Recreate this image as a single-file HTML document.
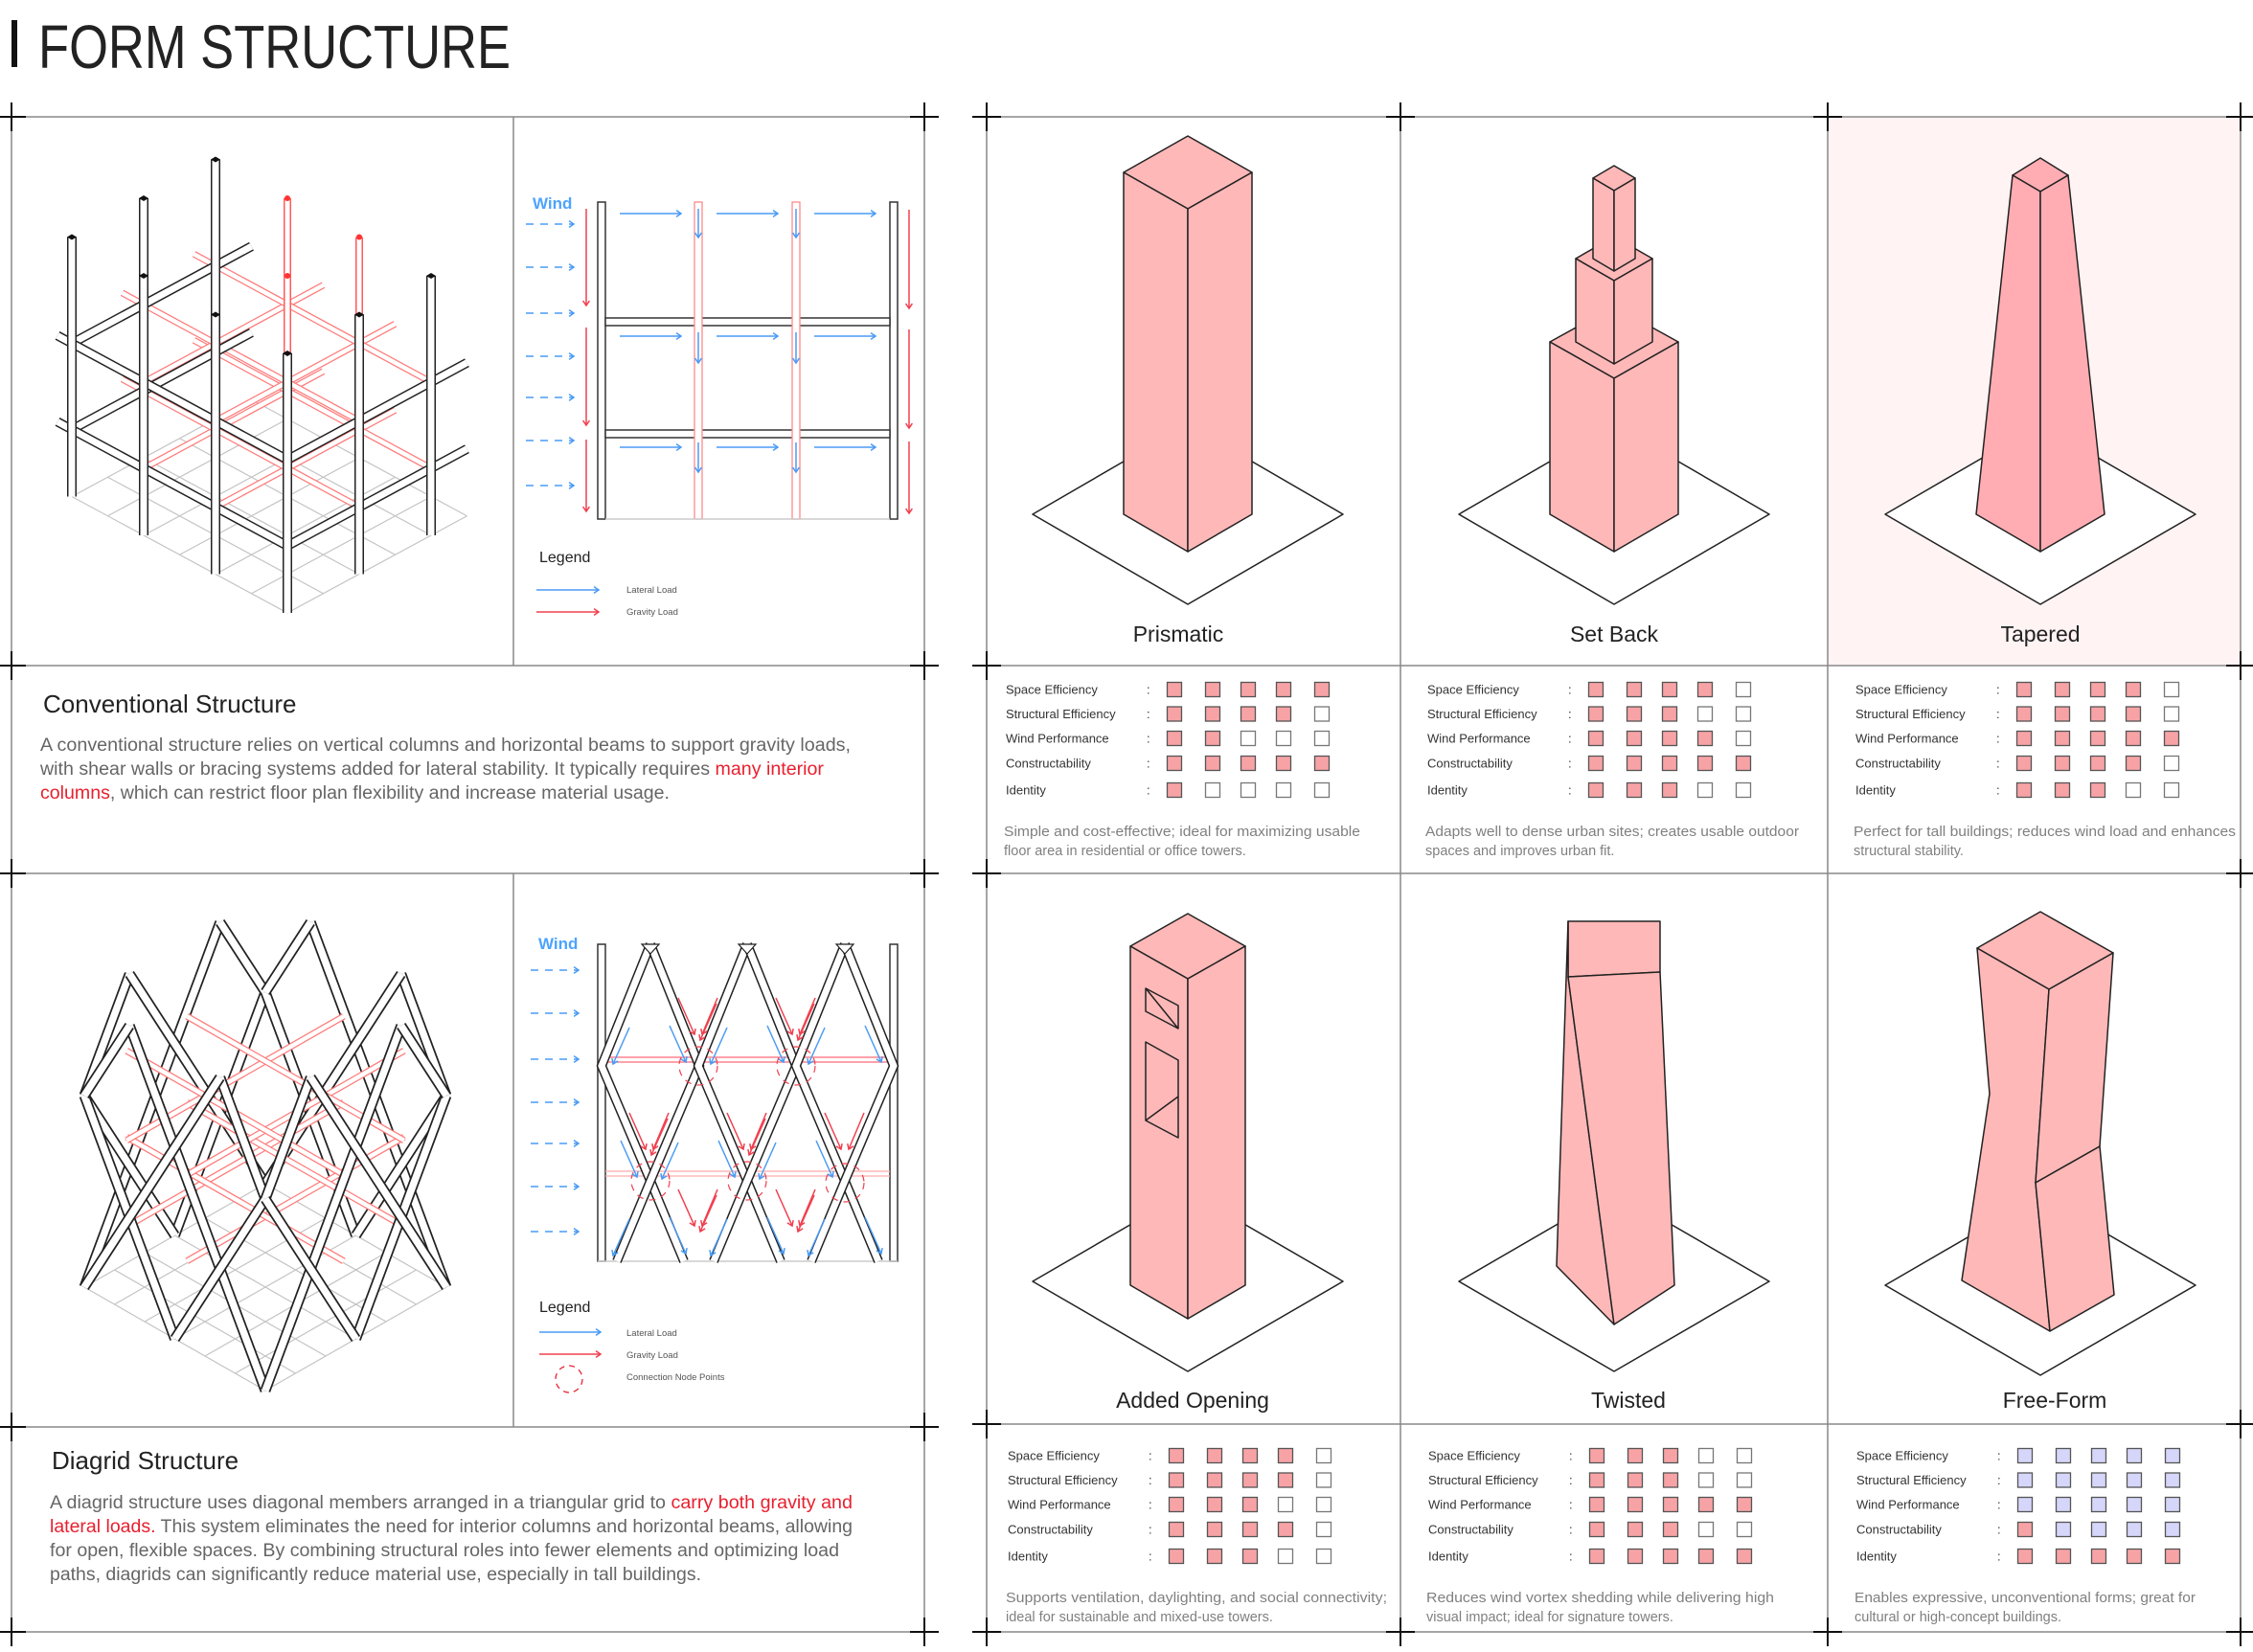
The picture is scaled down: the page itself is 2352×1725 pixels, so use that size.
<!DOCTYPE html>
<html><head><meta charset="utf-8"><style>
html,body{margin:0;padding:0;background:#fff}
svg{display:block}
text{font-family:"Liberation Sans",sans-serif}
</style></head><body>
<svg id="s" xmlns="http://www.w3.org/2000/svg" width="2352" height="1725" viewBox="0 0 2352 1725">
<rect width="2352" height="1725" fill="#fff"/>
<rect x="1908" y="122" width="431" height="573" fill="#fff3f3"/>
<rect x="12" y="21" width="6" height="49" fill="#111"/>
<text x="40" y="71" font-size="64" fill="#222" textLength="493" lengthAdjust="spacingAndGlyphs">FORM STRUCTURE</text>

<g id="frames" stroke="#888" stroke-width="1.5" fill="none">
<path d="M12 122H965M12 695H965M12 912H965M12 1490H965M12 1704H965M12 122V1704M965 122V1704M536 122V695M536 912V1490"/>
<path d="M1030 122H2339M1030 695H2339M1030 912H2339M1030 1487H2339M1030 1704H2339M1030 122V1704M2339 122V1704M1462 122V1704M1908 122V1704"/>
</g>
<g id="cross" stroke="#111" stroke-width="2"></g>

<text x="45" y="744" font-size="26" fill="#222">Conventional Structure</text>
<g font-size="19" fill="#666">
<text x="42" y="784" textLength="846" lengthAdjust="spacingAndGlyphs">A conventional structure relies on vertical columns and horizontal beams to support gravity loads,</text>
<text x="42" y="809" textLength="818" lengthAdjust="spacingAndGlyphs">with shear walls or bracing systems added for lateral stability. It typically requires <tspan fill="#e8202f">many interior</tspan></text>
<text x="42" y="834" textLength="657" lengthAdjust="spacingAndGlyphs"><tspan fill="#e8202f">columns</tspan>, which can restrict floor plan flexibility and increase material usage.</text>
</g>
<text x="54" y="1534" font-size="26" fill="#222">Diagrid Structure</text>
<g font-size="19" fill="#666">
<text x="52" y="1575" textLength="838" lengthAdjust="spacingAndGlyphs">A diagrid structure uses diagonal members arranged in a triangular grid to <tspan fill="#e8202f">carry both gravity and</tspan></text>
<text x="52" y="1600" textLength="838" lengthAdjust="spacingAndGlyphs"><tspan fill="#e8202f">lateral loads.</tspan> This system eliminates the need for interior columns and horizontal beams, allowing</text>
<text x="52" y="1625" textLength="824" lengthAdjust="spacingAndGlyphs">for open, flexible spaces. By combining structural roles into fewer elements and optimizing load</text>
<text x="52" y="1650" textLength="680" lengthAdjust="spacingAndGlyphs">paths, diagrids can significantly reduce material use, especially in tall buildings.</text>
</g>

<g id="elev1">
<g fill="#fff" stroke="#333" stroke-width="1.5">
<rect x="624" y="211" width="8" height="331"/><rect x="929" y="211" width="8" height="331"/>
<rect x="632" y="332" width="297" height="8"/><rect x="632" y="449" width="297" height="8"/>
</g>
<g fill="#fff" stroke="#ff8a8a" stroke-width="1.3">
<rect x="725" y="211" width="8" height="331"/><rect x="827" y="211" width="8" height="331"/>
</g>
<line x1="632" y1="542" x2="929" y2="542" stroke="#ccc" stroke-width="1.5"/>
<text x="556" y="218" font-size="17" font-weight="bold" fill="#4da3ff">Wind</text>
</g>
<text x="563" y="587" font-size="16" fill="#222">Legend</text>
<text x="654" y="619" font-size="9.5" fill="#555">Lateral Load</text>
<text x="654" y="642" font-size="9.5" fill="#555">Gravity Load</text>

<g id="elev2">
<g fill="#fff" stroke="#333" stroke-width="1.5">
<rect x="624" y="986" width="8" height="331"/><rect x="929" y="986" width="8" height="331"/>
</g>
<line x1="624" y1="1317" x2="937" y2="1317" stroke="#ccc" stroke-width="1.5"/>
<text x="562" y="991" font-size="17" font-weight="bold" fill="#4da3ff">Wind</text>
</g>
<text x="563" y="1370" font-size="16" fill="#222">Legend</text>
<text x="654" y="1395" font-size="9.5" fill="#555">Lateral Load</text>
<text x="654" y="1418" font-size="9.5" fill="#555">Gravity Load</text>
<text x="654" y="1441" font-size="9.5" fill="#555">Connection Node Points</text>
<circle cx="594" cy="1440" r="14" fill="none" stroke="#e8202f" stroke-width="1.3" stroke-dasharray="6 5"/>

<g id="iso"></g>

<g stroke="#222" stroke-width="1.5" stroke-linejoin="round">
<g fill="#fff">
<polygon points="1078,537 1240,443 1402,537 1240,631"/>
<polygon points="1523,537 1685,443 1847,537 1685,631"/>
<polygon points="1968,537 2130,443 2292,537 2130,631"/>
<polygon points="1078,1338 1240,1244 1402,1338 1240,1432"/>
<polygon points="1523,1338 1685,1244 1847,1338 1685,1432"/>
<polygon points="1968,1342 2130,1248 2292,1342 2130,1436"/>
</g>
<g fill="#ffb8b8">
<polygon points="1240,142 1173,180 1240,218 1307,180"/>
<polygon points="1173,180 1240,218 1240,576 1173,537"/>
<polygon points="1240,218 1307,180 1307,537 1240,576"/>
<polygon points="1685,320 1618,357 1685,395 1752,357"/>
<polygon points="1618,357 1685,395 1685,576 1618,537"/>
<polygon points="1685,395 1752,357 1752,537 1685,576"/>
<polygon points="1685,247 1645,270 1685,293 1725,270"/>
<polygon points="1645,270 1685,293 1685,380 1645,357"/>
<polygon points="1685,293 1725,270 1725,357 1685,380"/>
<polygon points="1685,173 1663,186 1685,199 1707,186"/>
<polygon points="1663,186 1685,199 1685,283 1663,270"/>
<polygon points="1685,199 1707,186 1707,270 1685,283"/>
<polygon points="2130,165 2101,183 2130,200 2159,183" fill="#ffadb3"/>
<polygon points="2101,183 2130,200 2130,576 2063,537" fill="#ffadb3"/>
<polygon points="2130,200 2159,183 2197,537 2130,576" fill="#ffadb3"/>
<polygon points="1240,954 1180,988 1240,1022 1300,988"/>
<polygon points="1180,988 1240,1022 1240,1377 1180,1342"/>
<polygon points="1240,1022 1300,988 1300,1342 1240,1377"/>
<polygon points="1637,962 1733,962 1733,1015 1637,1020"/>
<polygon points="1637,962 1637,1020 1685,1383 1625,1322"/>
<polygon points="1637,1020 1733,1015 1748,1342 1685,1383"/>
<polygon points="2130,952 2064,990 2139,1033 2206,995"/>
<polygon points="2064,990 2077,1142 2048,1337 2140,1390 2125,1235 2139,1033"/>
<polygon points="2139,1033 2206,995 2192,1197 2125,1235"/>
<polygon points="2125,1235 2192,1197 2207,1352 2140,1390"/>
</g>
<g fill="none">
<polygon points="1196,1032 1230,1050 1230,1074 1196,1056"/>
<line x1="1196" y1="1032" x2="1230" y2="1074"/>
<polygon points="1196,1088 1230,1107 1230,1188 1196,1170"/>
<line x1="1196" y1="1170" x2="1230" y2="1145"/>
</g>
</g>
<g font-size="23" fill="#222" text-anchor="middle">
<text x="1230" y="670">Prismatic</text>
<text x="1685" y="670">Set Back</text>
<text x="2130" y="670">Tapered</text>
<text x="1245" y="1470">Added Opening</text>
<text x="1700" y="1470">Twisted</text>
<text x="2145" y="1470">Free-Form</text>
</g>
<g id="tables"></g>
</svg>
<script>
const NS="http://www.w3.org/2000/svg";
function el(t,a,p){const e=document.createElementNS(NS,t);for(const k in a)e.setAttribute(k,a[k]);(p||document.getElementById('iso')).appendChild(e);return e;}
function pl(pts,stroke,w,p){return el('polyline',{points:pts.map(q=>q.join(',')).join(' '),fill:'none',stroke:stroke,'stroke-width':w,'stroke-linecap':'butt','stroke-linejoin':'miter'},p);}
function dbl(pts,c,wo,wi,p){pl(pts,c,wo,p);pl(pts,'#fff',wi,p);}
const cr=document.getElementById('cross');
[[12,122],[965,122],[12,695],[965,695],[12,912],[965,912],[12,1490],[965,1490],[12,1704],[965,1704],
[1030,122],[1462,122],[1908,122],[2339,122],[1030,695],[2339,695],[1030,912],[2339,912],[1030,1487],[2339,1487],[1030,1704],[1462,1704],[1908,1704],[2339,1704]].forEach(([x,y])=>{el('path',{d:`M${x-15} ${y}H${x+15}M${x} ${y-15}V${y+15}`},cr);});
function arrow(x1,y1,x2,y2,c,dash,p){const g=p||document.getElementById('iso');el('line',{x1,y1,x2,y2,stroke:c,'stroke-width':1.5,'stroke-dasharray':dash||'none'},g);
const a=Math.atan2(y2-y1,x2-x1),h=6;el('polyline',{points:`${x2-h*Math.cos(a-0.6)},${y2-h*Math.sin(a-0.6)} ${x2},${y2} ${x2-h*Math.cos(a+0.6)},${y2-h*Math.sin(a+0.6)}`,fill:'none',stroke:c,'stroke-width':1.5},g);}
const B='#4a9bf5',R='#f0404f';
[234,279,327,372,415,460,507].forEach(y=>arrow(549,y,599,y,B,'8 7'));
[[218,319],[342,444],[459,534]].forEach(([a,b])=>{arrow(612,a,612,b,R);});
[[219,322],[344,447],[461,536]].forEach(([a,b])=>{arrow(949,a,949,b,R);});
[223,351,467].forEach(y=>{arrow(647,y,711,y,B);arrow(748,y,812,y,B);arrow(850,y,914,y,B);});
[[218,248],[347,379],[462,493]].forEach(([a,b])=>{arrow(729,a,729,b,B);arrow(831,a,831,b,B);});
arrow(560,616,625,616,B);arrow(560,639,625,639,R);
const e2=document.getElementById('elev2');
el('path',{d:'M632 1104H929M632 1109H929',stroke:'#ff6b78','stroke-width':1.3},e2);
el('path',{d:'M632 1223H929M632 1228H929',stroke:'#ffaaaa','stroke-width':1.3},e2);
[679,780,882].forEach(x=>{
 dbl([[x,986],[x-51,1113],[x,1233],[x+35,1317]],'#222',10,7,e2);
 dbl([[x,986],[x+51,1113],[x,1233],[x-35,1317]],'#222',10,7,e2);
 el('polygon',{points:`${x-9},986 ${x+9},986 ${x},996`,fill:'#fff',stroke:'#222','stroke-width':1.2},e2);
});
[[729,1113],[831,1113],[679,1233],[780,1233],[882,1235]].forEach(([x,y])=>el('circle',{cx:x,cy:y,r:20,fill:'none',stroke:R,'stroke-width':1.2,'stroke-dasharray':'7 6'},e2));
function ok(x1,y1,x2,y2){return Math.min(x1,x2)>634&&Math.max(x1,x2)<927&&Math.max(y1,y2)<1314;}
function arr2(x1,y1,x2,y2,c){if(ok(x1,y1,x2,y2))arrow(x1,y1,x2,y2,c,null,e2);}
[0,102,204].forEach(dx=>{[[0,0],[-51,120],[0,200]].forEach(([ox,oy])=>{
 const X=dx+ox,Y=oy;
 arr2(646+X,1048+Y,629+X,1086+Y,R);
 arr2(708+X,1042+Y,725+X,1080+Y,R);arr2(749+X,1042+Y,733+X,1080+Y,R);
 arr2(657+X,1073+Y,640+X,1111+Y,B);arr2(699+X,1071+Y,716+X,1109+Y,B);
});});
[1013,1058,1106,1151,1194,1239,1286].forEach(y=>arrow(554,y,604,y,B,'8 7'));
arrow(563,1391,627,1391,B);arrow(563,1414,627,1414,R);
const P1=(i,j,z)=>[300+(j-i)*75,640-(i+j)*40.5-z];
for(let a=0;a<=3.001;a+=0.5)pl([P1(a,0,0),P1(a,2.5,0)],'#c4c4c4',1.2);
for(let b=0;b<=2.501;b+=0.5)pl([P1(0,b,0),P1(3,b,0)],'#c4c4c4',1.2);
const Z=[70,160],Hc=271;
Z.forEach(z=>{[1,2].forEach(i=>dbl([P1(i,0,z),P1(i,2.5,z)],'#ff7a7a',7,4.5));[1,2].forEach(j=>dbl([P1(0,j,z),P1(3.3,j,z)],'#ff7a7a',7,4.5));});
const cols=[];for(let i=0;i<=3;i++)for(let j=0;j<=2;j++)cols.push([i,j]);
cols.sort((a,b)=>(b[0]+b[1])-(a[0]+a[1]));
cols.forEach(([i,j])=>{const red=(j>=1&&(i==1||i==2));if(red){dbl([P1(i,j,0),P1(i,j,Hc)],'#ff5a5a',8,5);const t=P1(i,j,Hc);el('circle',{cx:t[0],cy:t[1],r:3,fill:'#f33'});}});
Z.forEach(z=>{dbl([P1(3,0,z),P1(3,2.5,z)],'#222',10,7);dbl([P1(3.2,0,z),P1(0,0,z)],'#222',10,7);dbl([P1(0,0,z),P1(0,2.5,z)],'#222',10,7);});
cols.forEach(([i,j])=>{const red=(j>=1&&(i==1||i==2));if(!red){dbl([P1(i,j,0),P1(i,j,Hc)],'#222',10,7);const t=P1(i,j,Hc);el('polygon',{points:`${t[0]-5},${t[1]} ${t[0]},${t[1]-3} ${t[0]+5},${t[1]} ${t[0]},${t[1]+3}`,fill:'#111'});}});
const P2=(i,j,z)=>[277+(j-i)*63,1452-(i+j)*36-z],H2=300;
for(let a=0;a<=3.001;a+=0.5){pl([P2(a,0,0),P2(a,3,0)],'#c4c4c4',1.2);pl([P2(0,a,0),P2(3,a,0)],'#c4c4c4',1.2);}
const SL=2.25;
function face(fn){for(let k=-4.5;k<=7.51;k+=1.5){[1,-1].forEach(s=>{
 const ta=(0-k)/(s*SL),tb=(3-k)/(s*SL);const lo=Math.min(ta,tb),hi=Math.max(ta,tb);const t0=Math.max(0,lo),t1=Math.min(1,hi);if(t1-t0<0.03)return;
 dbl([fn(k+s*SL*t0,H2*t0),fn(k+s*SL*t1,H2*t1)],'#222',11,7.5);});}}
face((u,z)=>P2(3,u,z));face((u,z)=>P2(u,3,z));
[110,200].forEach(z=>{[1,2].forEach(i=>dbl([P2(i,-0.3,z),P2(i,3.3,z)],'#ff7a7a',7,4.5));[1,2].forEach(j=>dbl([P2(-0.3,j,z),P2(3.3,j,z)],'#ff7a7a',7,4.5));});
face((u,z)=>P2(u,0,z));face((u,z)=>P2(0,u,z));
const tg=document.getElementById('tables');
const labels=['Space Efficiency','Structural Efficiency','Wind Performance','Constructability','Identity'];
const cards=[
 {dx:0,dy:0,r:[5,4,2,5,1],d:['Simple and cost-effective; ideal for maximizing usable','floor area in residential or office towers.'],L:372},
 {dx:440,dy:0,r:[4,3,4,5,3],d:['Adapts well to dense urban sites; creates usable outdoor','spaces and improves urban fit.'],L:390},
 {dx:887,dy:0,r:[4,4,5,4,3],d:['Perfect for tall buildings; reduces wind load and enhances','structural stability.'],L:399},
 {dx:2,dy:800,r:[4,4,3,4,3],d:['Supports ventilation, daylighting, and social connectivity;','ideal for sustainable and mixed-use towers.'],L:398},
 {dx:441,dy:800,r:[3,3,5,3,5],d:['Reduces wind vortex shedding while delivering high','visual impact; ideal for signature towers.'],L:363},
 {dx:888,dy:800,r:[5,5,5,5,5],d:['Enables expressive, unconventional forms; great for','cultural or high-concept buildings.'],L:356,ff:true}];
const rowY=[720,745.5,771,797,825],sqX=[1226,1266,1303,1340,1380];
cards.forEach(c=>{
 labels.forEach((lb,ri)=>{const y=rowY[ri]+c.dy;
  el('text',{x:1050+c.dx,y:y+4.5,'font-size':13,fill:'#333'},tg).textContent=lb;
  el('text',{x:1197+c.dx,y:y+4.5,'font-size':13,fill:'#333'},tg).textContent=':';
  sqX.forEach((x,k)=>{let f='#fff';if(k<c.r[ri])f='#f7a3a6';if(c.ff){f=(ri==3&&k==0)||ri==4?'#f7a3a6':'#d6d6fa';}
   el('rect',{x:x-7.5+c.dx,y:y-7.5,width:15,height:15,fill:f,stroke:f=='#fff'?'#777':'#555','stroke-width':1.3},tg);});
 });
 el('text',{x:1048+c.dx,y:873+c.dy,'font-size':14.5,fill:'#808080',textLength:c.L,lengthAdjust:'spacingAndGlyphs'},tg).textContent=c.d[0];
 el('text',{x:1048+c.dx,y:893+c.dy,'font-size':14.5,fill:'#808080'},tg).textContent=c.d[1];
});
</script>
</body></html>
